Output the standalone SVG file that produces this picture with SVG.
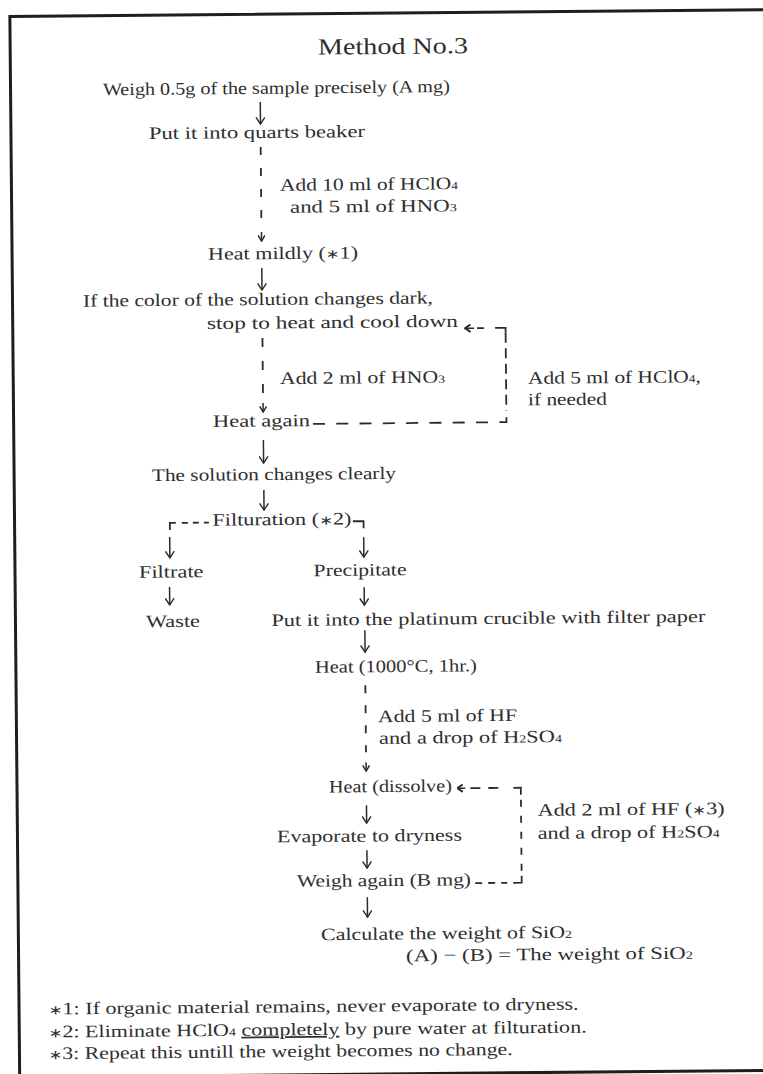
<svg xmlns="http://www.w3.org/2000/svg" width="763" height="1074" viewBox="0 0 763 1074">
  <defs>
    <style>
      .t { font-family: "Liberation Serif", "Times New Roman", serif; font-size: 17.5px; fill: #2e2e2e; }
      .ttl { font-size: 23px; }
      .sub { font-size: 11px; }
      .ast { font-family: "DejaVu Sans", sans-serif; font-size: 13px; }
      .ul { text-decoration: underline; }
      .ln { stroke: #2b2b2b; stroke-width: 1.5; fill: none; }
      .dl { stroke: #2b2b2b; stroke-width: 1.8; fill: none; }
      .frame { stroke: #1e1e1e; stroke-width: 3; fill: none; }
      .solid { marker-end: url(#ah); }
      .tip { marker-end: url(#sv); }
      .back { marker-end: url(#lt); }
    </style>
    <!-- open arrowhead of the solid flow arrows -->
    <marker id="ah" viewBox="0 0 8 10" refX="7.3" refY="5" markerWidth="8" markerHeight="10" markerUnits="userSpaceOnUse" orient="auto">
      <path d="M0.6 0.6 L7.3 5 L0.6 9.4" fill="none" stroke="#2b2b2b" stroke-width="1.4"/>
    </marker>
    <!-- small head closing a dashed reagent line -->
    <marker id="sv" viewBox="0 0 7 8" refX="6.3" refY="4" markerWidth="7" markerHeight="8" markerUnits="userSpaceOnUse" orient="auto">
      <path d="M0.6 0.6 L6.3 4 L0.6 7.4" fill="none" stroke="#2b2b2b" stroke-width="1.5"/>
    </marker>
    <!-- bold head of the return loops -->
    <marker id="lt" viewBox="0 0 7 9" refX="6.2" refY="4.5" markerWidth="7" markerHeight="9" markerUnits="userSpaceOnUse" orient="auto">
      <path d="M0.8 0.8 L6.2 4.5 L0.8 8.2" fill="none" stroke="#2b2b2b" stroke-width="2"/>
    </marker>
  </defs>

  <rect x="0" y="0" width="763" height="1074" fill="#ffffff"/>

  <!-- the sheet sits slightly askew -->
  <g transform="rotate(-0.53 381 537)">
    <path class="frame" d="M14.7 1090 V13.2 H790 M14.7 1074 H790"/>

    <g id="n-title"><text class="t ttl" x="322.5" y="54" textLength="150" lengthAdjust="spacingAndGlyphs">Method No.3</text></g>
    <g id="n-weigh"><text class="t" x="107" y="92.7" textLength="347" lengthAdjust="spacingAndGlyphs">Weigh 0.5g of the sample precisely (A mg)</text></g>
    <g id="n-beaker"><text class="t" x="152.7" y="136.9" textLength="216" lengthAdjust="spacingAndGlyphs">Put it into quarts beaker</text></g>
    <g id="n-heat-mild"><text class="t" x="210.6" y="258.1" textLength="150" lengthAdjust="spacingAndGlyphs">Heat mildly (<tspan class="ast">∗</tspan>1)</text></g>
    <g id="n-dark">
      <text class="t" x="85.1" y="303.9" textLength="350" lengthAdjust="spacingAndGlyphs">If the color of the solution changes dark,</text>
      <text class="t" x="208.9" y="327.5" textLength="251" lengthAdjust="spacingAndGlyphs">stop to heat and cool down</text>
    </g>
    <g id="n-heat-again"><text class="t" x="214" y="425.4" textLength="97" lengthAdjust="spacingAndGlyphs">Heat again</text></g>
    <g id="n-clear"><text class="t" x="152.5" y="479" textLength="244" lengthAdjust="spacingAndGlyphs">The solution changes clearly</text></g>
    <g id="n-filter"><text class="t" x="212.6" y="524.1" textLength="139" lengthAdjust="spacingAndGlyphs">Filturation (<tspan class="ast">∗</tspan>2)</text></g>
    <g id="n-filtrate"><text class="t" x="138.6" y="575.5" textLength="64.6" lengthAdjust="spacingAndGlyphs">Filtrate</text></g>
    <g id="n-precipitate"><text class="t" x="313.2" y="575.5" textLength="93" lengthAdjust="spacingAndGlyphs">Precipitate</text></g>
    <g id="n-waste"><text class="t" x="145.2" y="625" textLength="54" lengthAdjust="spacingAndGlyphs">Waste</text></g>
    <g id="n-crucible"><text class="t" x="270.6" y="625" textLength="434" lengthAdjust="spacingAndGlyphs">Put it into the platinum crucible with filter paper</text></g>
    <g id="n-ignite"><text class="t" x="313.7" y="672.1" textLength="162" lengthAdjust="spacingAndGlyphs">Heat (1000°C, 1hr.)</text></g>
    <g id="n-dissolve"><text class="t" x="326.6" y="792.1" textLength="123" lengthAdjust="spacingAndGlyphs">Heat (dissolve)</text></g>
    <g id="n-evaporate"><text class="t" x="274.2" y="841.4" textLength="185" lengthAdjust="spacingAndGlyphs">Evaporate to dryness</text></g>
    <g id="n-weigh-b"><text class="t" x="293.8" y="886" textLength="174" lengthAdjust="spacingAndGlyphs">Weigh again (B mg)</text></g>
    <g id="n-result">
      <text class="t" x="317.3" y="939.6" textLength="251" lengthAdjust="spacingAndGlyphs">Calculate the weight of SiO<tspan class="sub">2</tspan></text>
      <text class="t" x="402.1" y="961.6" textLength="287" lengthAdjust="spacingAndGlyphs">(A) − (B) = The weight of SiO<tspan class="sub">2</tspan></text>
    </g>

    <!-- reagent notes beside the connectors -->
    <g id="labels">
      <text class="t" x="283.2" y="189.9" textLength="178" lengthAdjust="spacingAndGlyphs">Add 10 ml of HClO<tspan class="sub">4</tspan></text>
      <text class="t" x="293" y="211.9" textLength="167" lengthAdjust="spacingAndGlyphs">and 5 ml of HNO<tspan class="sub">3</tspan></text>
      <text class="t" x="281.4" y="383.2" textLength="165" lengthAdjust="spacingAndGlyphs">Add 2 ml of HNO<tspan class="sub">3</tspan></text>
      <text class="t" x="529.4" y="385.2" textLength="173" lengthAdjust="spacingAndGlyphs">Add 5 ml of HClO<tspan class="sub">4</tspan>,</text>
      <text class="t" x="529.2" y="406.7" textLength="79" lengthAdjust="spacingAndGlyphs">if needed</text>
      <text class="t" x="376.3" y="722.1" textLength="139" lengthAdjust="spacingAndGlyphs">Add 5 ml of HF</text>
      <text class="t" x="377.1" y="743.8" textLength="183" lengthAdjust="spacingAndGlyphs">and a drop of H<tspan class="sub">2</tspan>SO<tspan class="sub">4</tspan></text>
      <text class="t" x="535.1" y="817.3" textLength="187" lengthAdjust="spacingAndGlyphs">Add 2 ml of HF (<tspan class="ast">∗</tspan>3)</text>
      <text class="t" x="534.9" y="840.3" textLength="182" lengthAdjust="spacingAndGlyphs">and a drop of H<tspan class="sub">2</tspan>SO<tspan class="sub">4</tspan></text>
    </g>

    <g id="notes">
      <text class="t" x="44.3" y="1011.4" textLength="530" lengthAdjust="spacingAndGlyphs"><tspan class="ast">∗</tspan>1: If organic material remains, never evaporate to dryness.</text>
      <text class="t" x="44.1" y="1034.4" textLength="538" lengthAdjust="spacingAndGlyphs"><tspan class="ast">∗</tspan>2: Eliminate HClO<tspan class="sub">4</tspan> <tspan class="ul">completely</tspan> by pure water at filturation.</text>
      <text class="t" x="43.9" y="1056.1" textLength="464" lengthAdjust="spacingAndGlyphs"><tspan class="ast">∗</tspan>3: Repeat this untill the weight becomes no change.</text>
    </g>

    <g id="connectors">
      <!-- upper column -->
      <path class="ln solid" d="M264.3 101 V123"/>
      <path class="dl" d="M264.3 146 V218" stroke-dasharray="8 13"/>
      <path class="ln tip" d="M264.3 231 V240"/>
      <path class="ln solid" d="M264.3 267 V289"/>
      <path class="dl" d="M264.3 337 V393" stroke-dasharray="9 14"/>
      <path class="ln tip" d="M264.3 402 V411"/>
      <!-- HClO4 return loop -->
      <path class="dl" d="M314 423.3 H507.5 V414" stroke-dasharray="12 11.3"/>
      <path class="dl" d="M507.5 334 V412" stroke-dasharray="10 5.5"/>
      <path class="dl" d="M497 329 H507.5 V334"/>
      <path class="dl" d="M479 329 H486"/>
      <path class="ln back" d="M476 329 H467"/>
      <path class="ln solid" d="M264.3 439 V462"/>
      <path class="ln solid" d="M264.3 489 V509"/>
      <!-- filtration split -->
      <path class="dl" d="M170 528 V521 H176"/>
      <path class="dl" d="M182 521 H209" stroke-dasharray="6 5"/>
      <path class="dl" d="M353 521 H363.7 V528"/>
      <path class="ln solid" d="M169.7 535 V556"/>
      <path class="ln solid" d="M363.7 537 V557"/>
      <path class="ln solid" d="M169.1 585 V603"/>
      <path class="ln solid" d="M363.7 587 V605"/>
      <!-- lower column -->
      <path class="ln solid" d="M364 630 V652"/>
      <path class="dl" d="M364 685 V752" stroke-dasharray="8 12"/>
      <path class="ln tip" d="M364 762 V771"/>
      <path class="ln solid" d="M364 805 V823"/>
      <path class="ln solid" d="M364 850 V868"/>
      <path class="ln solid" d="M364 897 V917"/>
      <!-- HF repeat loop -->
      <path class="ln back" d="M463 789 H455"/>
      <path class="dl" d="M468 789 H478 M486 789 H496"/>
      <path class="dl" d="M511 789 H518.5 V796"/>
      <path class="dl" d="M518.5 801 V873" stroke-dasharray="7 9"/>
      <path class="dl" d="M518.5 877 V884 H510"/>
      <path class="dl" d="M472 884 H504" stroke-dasharray="7 6"/>
    </g>
  </g>
</svg>
